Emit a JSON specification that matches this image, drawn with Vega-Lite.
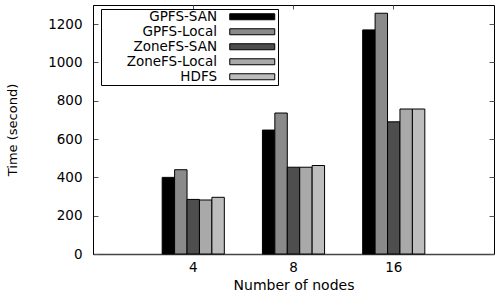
{
  "$schema": "https://vega.github.io/schema/vega-lite/v6.json",
  "width": 401,
  "height": 249,
  "autosize": "none",
  "padding": {"left": 93, "top": 5, "right": 3, "bottom": 45},
  "background": "white",
  "config": {
    "font": "DejaVu Sans",
    "view": {"stroke": "black", "strokeWidth": 1},
    "axis": {"labelColor": "black", "titleColor": "black", "titleFontWeight": "normal", "grid": false, "tickColor": "#555555"}
  },
  "data": {
    "values": [
      {"nodes": 4, "fs": "GPFS-SAN", "time": 400},
      {"nodes": 4, "fs": "GPFS-Local", "time": 440},
      {"nodes": 4, "fs": "ZoneFS-SAN", "time": 285},
      {"nodes": 4, "fs": "ZoneFS-Local", "time": 282},
      {"nodes": 4, "fs": "HDFS", "time": 296},
      {"nodes": 8, "fs": "GPFS-SAN", "time": 647},
      {"nodes": 8, "fs": "GPFS-Local", "time": 736},
      {"nodes": 8, "fs": "ZoneFS-SAN", "time": 453},
      {"nodes": 8, "fs": "ZoneFS-Local", "time": 453},
      {"nodes": 8, "fs": "HDFS", "time": 462},
      {"nodes": 16, "fs": "GPFS-SAN", "time": 1170},
      {"nodes": 16, "fs": "GPFS-Local", "time": 1257},
      {"nodes": 16, "fs": "ZoneFS-SAN", "time": 690},
      {"nodes": 16, "fs": "ZoneFS-Local", "time": 757},
      {"nodes": 16, "fs": "HDFS", "time": 757}
    ]
  },
  "layer": [
    {
      "mark": {"type": "bar", "stroke": "black", "strokeWidth": 1},
      "encoding": {
        "x": {
          "field": "nodes", "type": "ordinal",
          "scale": {"paddingInner": 0.38, "paddingOuter": 0.69},
          "axis": {"orient": "bottom", "labelAngle": 0, "tickSize": -4, "labelPadding": 10, "labelFontSize": 13.5, "domainColor": "#444444", "domainWidth": 1.5, "title": "Number of nodes", "titleFontSize": 14, "titlePadding": 5}
        },
        "xOffset": {
          "field": "fs", "type": "nominal",
          "sort": ["GPFS-SAN", "GPFS-Local", "ZoneFS-SAN", "ZoneFS-Local", "HDFS"],
          "scale": {"paddingInner": 0, "paddingOuter": 0}
        },
        "y": {
          "field": "time", "type": "quantitative",
          "scale": {"domain": [0, 1300], "nice": false},
          "axis": {"orient": "left", "values": [0, 200, 400, 600, 800, 1000, 1200], "format": "d", "tickSize": -5, "labelPadding": 16, "labelFontSize": 13.5, "domainColor": "black", "title": "Time (second)", "titleFontSize": 13, "titlePadding": 28}
        },
        "fill": {
          "field": "fs", "type": "nominal",
          "scale": {
            "domain": ["GPFS-SAN", "GPFS-Local", "ZoneFS-SAN", "ZoneFS-Local", "HDFS"],
            "range": ["#000000", "#8a8a8a", "#4e4e4e", "#a9a9a9", "#bdbdbd"]
          },
          "legend": {
            "orient": "none", "legendX": 8, "legendY": 4, "title": null,
            "strokeColor": "black", "fillColor": "white", "padding": 1,
            "symbolType": "M-4.5,-0.6H4.5V0.6H-4.5Z", "symbolSize": 100,
            "symbolStrokeColor": "black", "symbolStrokeWidth": 1,
            "labelAlign": "right", "labelOffset": -42, "symbolOffset": 143.5,
            "labelFontSize": 13.5, "labelColor": "black", "labelLimit": 300, "rowPadding": 0
          }
        }
      }
    },
    {
      "mark": {"type": "bar", "opacity": 0},
      "encoding": {
        "x": {
          "field": "nodes", "type": "ordinal",
          "scale": {"paddingInner": 0.38, "paddingOuter": 0.69},
          "axis": {"orient": "top", "labels": false, "title": null, "tickSize": -4, "domain": false}
        },
        "y": {
          "field": "time", "type": "quantitative",
          "scale": {"domain": [0, 1300], "nice": false},
          "axis": {"orient": "right", "values": [0, 200, 400, 600, 800, 1000, 1200], "labels": false, "title": null, "tickSize": -5, "domain": false}
        }
      }
    }
  ],
  "resolve": {"axis": {"x": "independent", "y": "independent"}}
}
